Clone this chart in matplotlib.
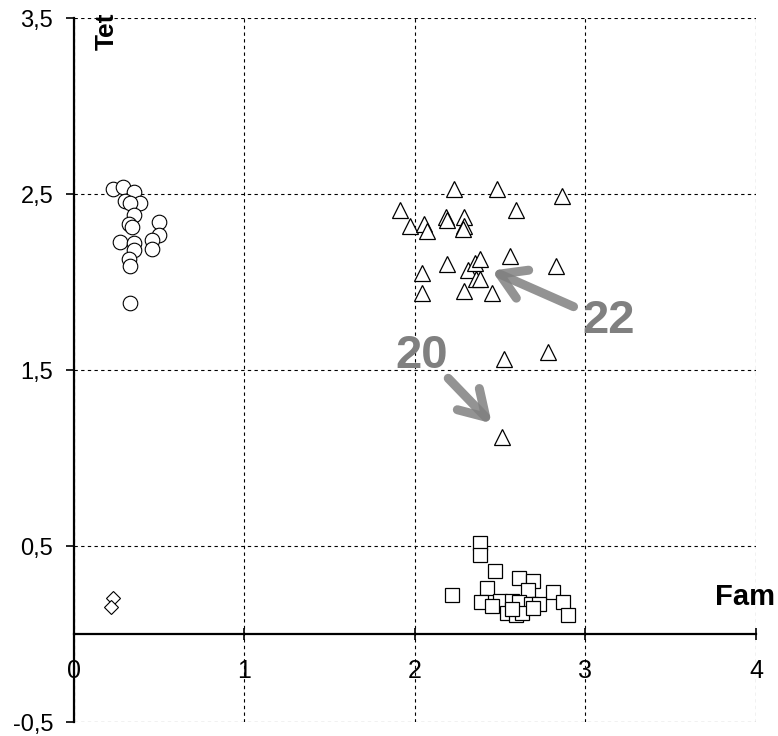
import matplotlib.pyplot as plt

plt.rcParams['font.family'] = ['Liberation Sans', 'DejaVu Sans']

# Kreise (links oben)
circ_x = [0.23, 0.29, 0.35, 0.30, 0.39, 0.33, 0.35, 0.32, 0.34, 0.50, 0.50, 0.27,
          0.35, 0.46, 0.46, 0.35, 0.32, 0.33, 0.33]
circ_y = [2.53, 2.54, 2.51, 2.46, 2.45, 2.45, 2.38, 2.33, 2.31, 2.34, 2.27, 2.23,
          2.22, 2.24, 2.19, 2.18, 2.13, 2.09, 1.88]

# Dreiecke
tri_x = [2.23, 2.48, 2.86, 1.91, 2.59, 1.97, 2.05, 2.07, 2.18, 2.19, 2.29, 2.29, 2.28,
         2.19, 2.04, 2.04, 2.31, 2.35, 2.38, 2.36, 2.38, 2.29, 2.45, 2.56, 2.83,
         2.52, 2.78, 2.51]
tri_y = [2.53, 2.53, 2.49, 2.41, 2.41, 2.32, 2.33, 2.29, 2.37, 2.35, 2.37, 2.32, 2.30,
         2.10, 2.05, 1.94, 2.07, 2.11, 2.13, 2.02, 2.02, 1.95, 1.94, 2.15, 2.09,
         1.56, 1.60, 1.12]

# Quadrate
sq_x = [2.38, 2.38, 2.47, 2.61, 2.69, 2.42, 2.66, 2.81, 2.22, 2.39, 2.50, 2.57,
        2.61, 2.68, 2.73, 2.87, 2.45, 2.54, 2.59, 2.63, 2.69, 2.90, 2.57]
sq_y = [0.52, 0.45, 0.36, 0.32, 0.30, 0.26, 0.25, 0.24, 0.22, 0.18, 0.19, 0.19,
        0.18, 0.17, 0.17, 0.18, 0.16, 0.12, 0.11, 0.12, 0.15, 0.11, 0.14]

# Rauten
dia_x = [0.23, 0.22]
dia_y = [0.205, 0.153]

xticks = [0, 1, 2, 3, 4]
yticks = [-0.5, 0.5, 1.5, 2.5, 3.5]
ylabels = ['-0,5', '0,5', '1,5', '2,5', '3,5']

# Beschriftungen mit Pfeilen: Text, Textposition, Pfeilanfang, Pfeilspitze
notes = [
    ('22', (3.135, 1.78), (2.93, 1.86), (2.45, 2.065)),
    ('20', (2.04, 1.577), (2.195, 1.453), (2.45, 1.197)),
]

fig = plt.figure(figsize=(7.78, 7.36), dpi=100)
ax = fig.add_axes([0.0951, 0.019, 0.8766, 0.9565])

ms = 10.5
ax.plot(circ_x, circ_y, 'o', ms=ms, mfc='white', mec='black', mew=0.8, zorder=3)
ax.plot(tri_x, tri_y, '^', ms=ms + 1, mfc='white', mec='black', mew=0.9, zorder=3)
ax.plot(sq_x, sq_y, 's', ms=ms, mfc='white', mec='black', mew=0.9, zorder=3)
ax.plot(dia_x, dia_y, 'D', ms=7, mfc='white', mec='black', mew=0.8, zorder=3)

ax.set_xlim(0, 4)
ax.set_ylim(-0.5, 3.5)
ax.set_xticks(xticks)
ax.set_yticks(yticks)
ax.set_yticklabels(ylabels)

ax.spines['left'].set_position(('data', 0))
ax.spines['bottom'].set_position(('data', 0))
ax.spines['left'].set_linewidth(1.6)
ax.spines['bottom'].set_linewidth(1.6)
ax.spines['top'].set_visible(False)
ax.spines['right'].set_visible(False)

ax.grid(True, color='black', linestyle=(0, (3, 3)), linewidth=0.8)
ax.set_axisbelow(True)

ax.tick_params(axis='y', direction='out', length=6, width=1.2, labelsize=17, pad=9)
ax.tick_params(axis='x', direction='inout', length=8, width=1.2, labelsize=18, pad=14)

ax.text(0.19, 3.53, 'Tet', rotation=90, fontsize=19, fontweight='bold',
        ha='center', va='top')
ax.text(3.76, 0.21, 'Fam', fontsize=21, fontweight='bold', ha='left', va='center')

gray = '#808080'
for label, pos, tail, head in notes:
    ax.text(pos[0], pos[1], label, fontsize=34, fontweight='bold', color=gray,
            ha='center', va='center', zorder=4)
    ax.annotate('', xy=head, xytext=tail,
                arrowprops=dict(arrowstyle='->, head_length=0.9, head_width=0.55',
                                mutation_scale=20, color=gray, lw=6.5,
                                shrinkA=0, shrinkB=0, alpha=0.85,
                                capstyle='round', joinstyle='round'),
                zorder=4)

fig.savefig('out.png', dpi=100)
